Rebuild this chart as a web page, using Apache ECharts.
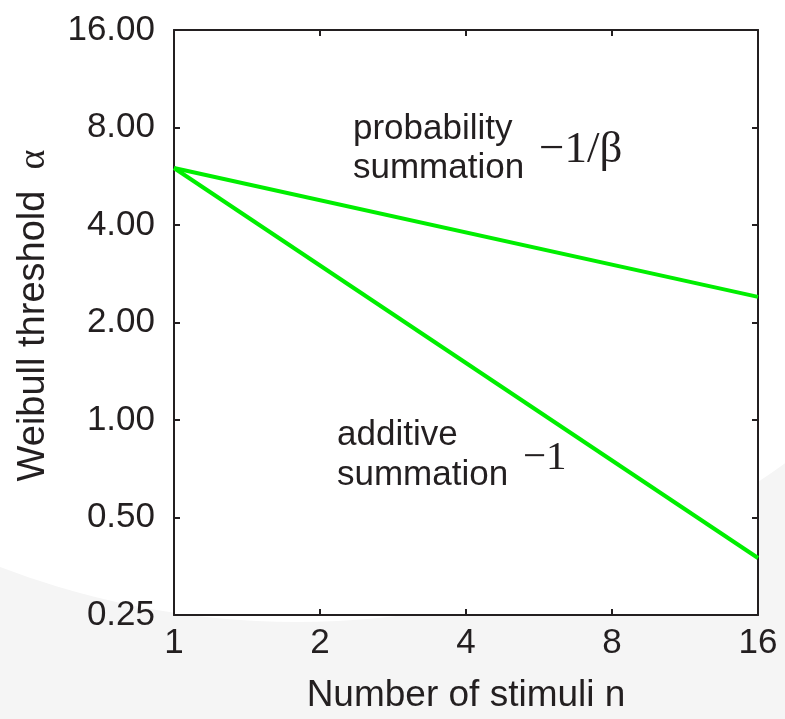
<!DOCTYPE html>
<html>
<head>
<meta charset="utf-8">
<script src="https://cdn.jsdelivr.net/npm/echarts@6/dist/echarts.min.js"></script>
<style>
  html, body { margin: 0; padding: 0; background: #fff; }
  #main { width: 785px; height: 719px; }
</style>
</head>
<body>
<div id="main"></div>
<script>
// number of stimuli (x) and thresholds
const nStimuli = [1, 16];
const probabilitySummation = [6.0, 2.4];
const additiveSummation = [6.0, 0.375];

const xTicks = [1, 2, 4, 8, 16];
const yTicks = [0.25, 0.5, 1, 2, 4, 8, 16];

const sans = '"Liberation Sans", Arial, Helvetica, sans-serif';
const serif = '"Liberation Serif", "Times New Roman", serif';
const ink = '#231f20';
const green = '#00ee00';

const chart = echarts.init(document.getElementById('main'));

const axisLine = { show: true, onZero: false, lineStyle: { color: ink, width: 2 } };
const axisTick = { show: true, inside: true, length: 6, lineStyle: { color: ink, width: 2 } };

const option = {
  animation: false,
  graphic: [
    // faint grey backdrop with a large white disc, as in the scan
    { type: 'rect', z: -20, silent: true,
      shape: { x: 0, y: 0, width: 785, height: 719 }, style: { fill: '#f5f5f5' } },
    { type: 'circle', z: -19, silent: true,
      shape: { cx: 297, cy: -207, r: 829 }, style: { fill: '#ffffff' } },
    // annotations
    { type: 'text', z: 50, x: 353, y: 129,
      style: { text: 'probability', font: '35px ' + sans, fill: ink, align: 'left', verticalAlign: 'middle' } },
    { type: 'text', z: 50, x: 353, y: 168,
      style: { text: 'summation', font: '35px ' + sans, fill: ink, align: 'left', verticalAlign: 'middle' } },
    { type: 'text', z: 50, x: 539, y: 150,
      style: { text: '\u22121/\u03b2', font: '45px ' + serif, fill: ink, align: 'left', verticalAlign: 'middle' } },
    { type: 'text', z: 50, x: 337, y: 435,
      style: { text: 'additive', font: '35px ' + sans, fill: ink, align: 'left', verticalAlign: 'middle' } },
    { type: 'text', z: 50, x: 337, y: 475,
      style: { text: 'summation', font: '35px ' + sans, fill: ink, align: 'left', verticalAlign: 'middle' } },
    { type: 'text', z: 50, x: 523, y: 458,
      style: { text: '\u22121', font: '41px ' + serif, fill: ink, align: 'left', verticalAlign: 'middle' } }
  ],
  grid: {
    left: 174, right: 27, top: 30, bottom: 104,
    show: true, backgroundColor: '#ffffff', borderWidth: 0
  },
  xAxis: [
    {
      type: 'log', logBase: 2, min: xTicks[0], max: xTicks[xTicks.length - 1],
      splitNumber: xTicks.length - 1, position: 'bottom',
      axisLine, axisTick,
      axisLabel: { fontSize: 35, fontFamily: sans, color: ink, margin: 11, formatter: v => String(Math.round(v)) },
      splitLine: { show: false }, minorTick: { show: false },
      name: 'Number of stimuli n', nameLocation: 'middle', nameGap: 62,
      nameTextStyle: { fontSize: 37, fontFamily: sans, color: ink }
    },
    {
      type: 'log', logBase: 2, min: xTicks[0], max: xTicks[xTicks.length - 1],
      splitNumber: xTicks.length - 1, position: 'top',
      axisLine, axisTick, axisLabel: { show: false }, splitLine: { show: false }
    }
  ],
  yAxis: [
    {
      type: 'log', logBase: 2, min: yTicks[0], max: yTicks[yTicks.length - 1],
      splitNumber: yTicks.length - 1, position: 'left',
      axisLine, axisTick,
      axisLabel: { fontSize: 35, fontFamily: sans, color: ink, margin: 19, formatter: v => v.toFixed(2) },
      splitLine: { show: false }, minorTick: { show: false },
      name: 'Weibull threshold  {a|\u03b1}', nameLocation: 'middle', nameGap: 121, nameRotate: 90,
      nameTextStyle: {
        fontSize: 38, fontFamily: sans, color: ink, padding: [0, 0, 0, 14],
        rich: { a: { fontSize: 38, fontFamily: serif, color: ink } }
      }
    },
    {
      type: 'log', logBase: 2, min: yTicks[0], max: yTicks[yTicks.length - 1],
      splitNumber: yTicks.length - 1, position: 'right',
      axisLine, axisTick, axisLabel: { show: false }, splitLine: { show: false }
    }
  ],
  series: [
    {
      name: 'probability summation', type: 'line', symbol: 'none',
      lineStyle: { color: green, width: 4 },
      data: nStimuli.map((n, i) => [n, probabilitySummation[i]])
    },
    {
      name: 'additive summation', type: 'line', symbol: 'none',
      lineStyle: { color: green, width: 4 },
      data: nStimuli.map((n, i) => [n, additiveSummation[i]])
    }
  ]
};

chart.setOption(option);
</script>
</body>
</html>
